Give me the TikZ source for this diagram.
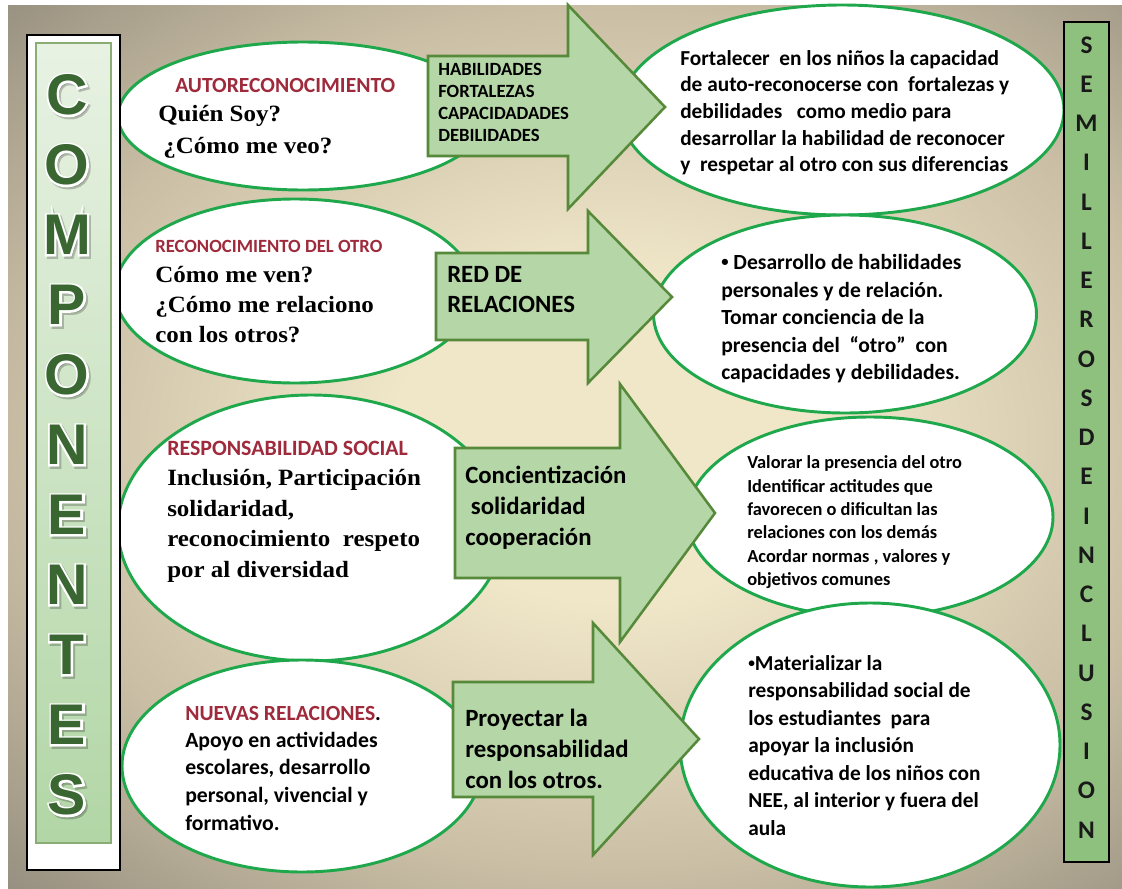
\documentclass[tikz,border=0pt]{standalone}
\usepackage{fontspec}
\setmainfont{Carlito}
\newfontfamily\serifb[FakeStretch=1.07]{Liberation Serif}
\newfontfamily\arialb{Liberation Sans}
\newfontfamily\arialcontorno[FakeBold=7]{Liberation Sans}
\usetikzlibrary{shapes.geometric}

\definecolor{fondoclaro}{HTML}{F0E6C8}
\definecolor{fondomedio}{HTML}{CABFA5}
\definecolor{fondooscuro}{HTML}{8B8477}
\definecolor{rojo}{HTML}{9E2A3B}
\definecolor{bordeverde}{HTML}{1EA84B}
\definecolor{flechaverde}{HTML}{B5D6A7}
\definecolor{flechaborde}{HTML}{568A3A}
\definecolor{letraverde}{HTML}{3A6632}
\definecolor{cajaverde}{HTML}{8EC17E}
\definecolor{cajaclara}{HTML}{E8F2E3}
\definecolor{cajaoscura}{HTML}{B2D6A6}

\pgfdeclareradialshading{fondo}{\pgfpoint{0bp}{0bp}}{color(0bp)=(fondoclaro); color(9bp)=(fondoclaro); color(24bp)=(fondomedio); color(38bp)=(fondooscuro); color(50bp)=(fondooscuro)}

\begin{document}
\begin{tikzpicture}[x=0.75pt, y=-0.75pt,
    burbuja/.style 2 args={ellipse, draw=bordeverde, line width=2.2pt, fill=white, inner sep=0pt, minimum width=#1*0.75pt, minimum height=#2*0.75pt},
    flecha/.style={draw=flechaborde, fill=flechaverde, line width=1.9pt, line join=miter},
    texto/.style={anchor=north west, inner sep=0pt, align=left},
    calibri/.style 2 args={texto, font=\bfseries\fontsize{#1}{#2}\selectfont},
    serif/.style={texto, font=\serifb\bfseries\fontsize{17.5}{#1}\selectfont},
    titulo/.style={texto, text=rojo, font=\bfseries\fontsize{#1}{#1}\selectfont},
    letracomp/.style={inner sep=0pt, font=\arialb\bfseries\fontsize{43}{43}\selectfont},
    contorno/.style={inner sep=0pt, font=\arialcontorno\bfseries\fontsize{43}{43}\selectfont},
    letrader/.style={inner sep=0pt, text=black!90, font=\bfseries\fontsize{19}{19}\selectfont}]

    \useasboundingbox (0,0) rectangle (1122,889);
    \fill[white] (0,0) rectangle (1122,889);
    \begin{scope}
        \clip (8,5) rectangle (1122,889);
        \shade[shading=fondo] (8,-10) rectangle (1212,889);
    \end{scope}

    % burbujas de la izquierda
    \node[burbuja={370}{148}] (auto) at (303,116) {};
    \node[burbuja={360}{184}] (otro) at (295,291) {};
    \node[burbuja={386}{266}] (social) at (311,528) {};
    \node[burbuja={360}{212}] (nuevas) at (302,766) {};
    % burbujas de la derecha
    \node[burbuja={444}{210}] (fortalecer) at (842,110) {};
    \node[burbuja={383}{198}] (desarrollo) at (845,314) {};
    \node[burbuja={366}{200}] (valorar) at (870,517) {};
    \node[burbuja={380}{284}] (materializar) at (870,745) {};

    % flechas
    \draw[flecha] (428,56) -- (568,56) -- (568,5) -- (665,107) -- (568,209) -- (568,156) -- (428,156) -- cycle;
    \draw[flecha] (436,253) -- (588,253) -- (588,211) -- (672,297) -- (588,383) -- (588,340) -- (436,340) -- cycle;
    \draw[flecha] (455,448) -- (620,448) -- (620,384) -- (715,513) -- (620,642) -- (620,578) -- (455,578) -- cycle;
    \draw[flecha] (453,682) -- (593,682) -- (593,623) -- (699,739) -- (593,855) -- (593,797) -- (453,797) -- cycle;

    % textos de las flechas
    \node[calibri={14}{16.5}] (habil) at (438,63) {HABILIDADES\\FORTALEZAS\\CAPACIDADADES\\DEBILIDADES};
    \node[calibri={18.6}{22.5}] (red) at (447,266) {RED DE\\RELACIONES};
    \node[calibri={18.6}{23.25}] (concien) at (465,465.5) {Concientización\\\ solidaridad\\cooperación};
    \node[calibri={18.6}{23}] (proyectar) at (465,709) {Proyectar la\\responsabilidad\\con los otros.};

    % textos de la izquierda
    \node[titulo=16.2] (autot) at (175,78) {AUTORECONOCIMIENTO};
    \node[serif=23.5, anchor=base west] (autob1) at (158,121.7) {Quién Soy?};
    \node[serif=23.5, anchor=base west] (autob2) at (163,153) {¿Cómo me veo?};
    \node[titulo=14] (otrot) at (155,240) {RECONOCIMIENTO DEL OTRO};
    \node[serif=22.5] (otrob) at (155,266) {Cómo me ven?\\¿Cómo me relaciono\\con los otros?};
    \node[titulo=16.4] (socialt) at (167,441) {RESPONSABILIDAD SOCIAL};
    \node[serif=23] (socialb) at (167,469) {Inclusión, Participación\\solidaridad,\\reconocimiento\ \ respeto\\por al diversidad};
    \node[titulo=16.2] (nuevast) at (185,706) {NUEVAS RELACIONES\textcolor{black}{.}};
    \node[calibri={16.3}{20.8}] (nuevasb) at (185,731.5) {Apoyo en actividades\\escolares, desarrollo\\personal, vivencial y\\formativo.};

    % textos de la derecha
    \node[calibri={16}{20}] (fortt) at (680,50) {Fortalecer\ \ en los niños la capacidad\\de auto-reconocerse con\ \ fortalezas y\\debilidades\ \ \ como medio para\\desarrollar la habilidad de reconocer\\y\ \ respetar al otro con sus diferencias};
    \node[calibri={16.2}{20.7}] (desat) at (721,254) {\raisebox{0.12em}{\fontsize{11}{11}\selectfont•} Desarrollo de habilidades\\personales y de relación.\\Tomar conciencia de la\\presencia del\ \ “otro”\ \ con\\capacidades y debilidades.};
    \node[calibri={13.8}{17.5}] (valt) at (747,455.5) {Valorar la presencia del otro\\Identificar actitudes que\\favorecen o dificultan las\\relaciones con los demás\\Acordar normas , valores y\\objetivos comunes};
    \node[calibri={16}{20.6}] (matt) at (748,655) {\raisebox{0.15em}{\fontsize{10}{10}\selectfont•}Materializar la\\responsabilidad social de\\los estudiantes\ \ para\\apoyar la inclusión\\educativa de los niños con\\NEE, al interior y fuera del\\aula};

    % caja COMPONENTES
    \draw[line width=2.2pt, fill=white] (27,35) rectangle (120,870);
    \shadedraw[top color=cajaclara, bottom color=cajaoscura, draw=flechaborde!70, line width=0.8pt] (36,43) rectangle (111,843);
    \foreach \ltr [count=\i] in {C,O,M,P,O,N,E,N,T,E,S}{
        \node[contorno, text=black, opacity=0.22, xshift=1.4pt, yshift=-1.6pt] (cs\i) at (67,{95+70*(\i-1)}) {\ltr};
        \node[contorno, text=white] (cw\i) at (67,{95+70*(\i-1)}) {\ltr};
        \node[letracomp, text=letraverde] (c\i) at (67,{95+70*(\i-1)}) {\ltr};
    }

    % caja SEMILLEROS DE INCLUSION
    \draw[fill=cajaverde, line width=1.2pt] (1064,22) rectangle (1109,862);
    \foreach \ltr [count=\i] in {S,E,M,I,L,L,E,R,O,S,D,E,I,N,C,L,U,S,I,O,N}
        \node[letrader] (s\i) at (1086.5,{45+39.25*(\i-1)}) {\ltr};
\end{tikzpicture}
\end{document}
